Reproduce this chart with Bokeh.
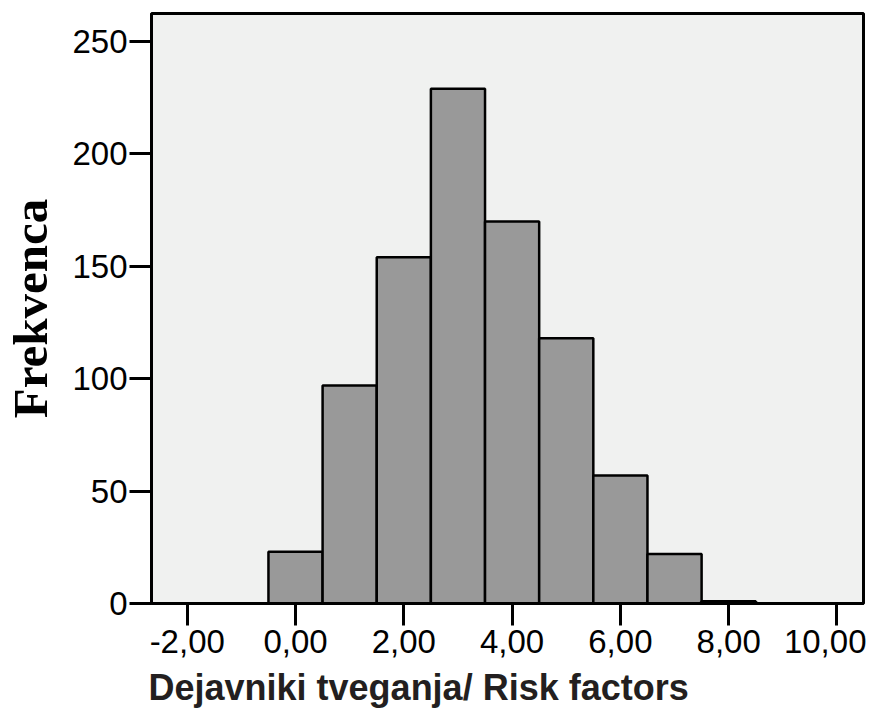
from bokeh.plotting import figure
from bokeh.models import Range1d, FixedTicker, Title
from bokeh.embed import file_html
from bokeh.resources import INLINE

# Histogram data (bin edges and frequencies)
bin_left = [-0.5, 0.5, 1.5, 2.5, 3.5, 4.5, 5.5, 6.5, 7.5]
bin_right = [0.5, 1.5, 2.5, 3.5, 4.5, 5.5, 6.5, 7.5, 8.5]
counts = [23, 97, 154, 229, 170, 118, 57, 22, 1]

x_ticks = [-2, 0, 2, 4, 6, 8, 10]
x_tick_labels = ["-2,00", "0,00", "2,00", "4,00", "6,00", "8,00", "10,00"]
y_ticks = [0, 50, 100, 150, 200, 250]

x_title = "Dejavniki tveganja/ Risk factors"
y_title = "Frekvenca"

p = figure(width=866, height=726, output_backend="svg", toolbar_location=None,
           x_range=Range1d(-2.66, 10.49), y_range=Range1d(0, 262.5),
           min_border_left=151, min_border_right=3, min_border_top=13,
           min_border_bottom=123)

p.quad(left=bin_left, right=bin_right, bottom=0, top=counts,
       fill_color="#999999", line_color="black", line_width=2.5)

p.background_fill_color = "#f0f1f0"
p.border_fill_color = "white"
p.outline_line_color = "black"
p.outline_line_width = 3
p.grid.visible = False

xa = p.xaxis[0]
xa.ticker = FixedTicker(ticks=x_ticks)
xa.major_label_overrides = {t: l for t, l in zip(x_ticks, x_tick_labels)}

p.add_layout(Title(text=x_title, align="left", offset=-3, standoff=19,
                   text_font="Liberation Sans", text_font_style="bold",
                   text_font_size="36px", text_color="#231f20"), "below")

ya = p.yaxis[0]
ya.ticker = FixedTicker(ticks=y_ticks)
ya.axis_label = y_title
ya.axis_label_text_font = "Liberation Serif"
ya.axis_label_text_font_style = "bold"
ya.axis_label_text_font_size = "49px"
ya.axis_label_text_color = "black"
ya.axis_label_standoff = 11

for ax in (xa, ya):
    ax.major_label_text_font = "Liberation Sans"
    ax.major_label_text_font_size = "33px"
    ax.major_label_text_color = "black"
    ax.axis_line_color = "black"
    ax.axis_line_width = 3
    ax.major_tick_line_color = "black"
    ax.major_tick_line_width = 3
    ax.major_tick_out = 22
    ax.major_tick_in = 0
    ax.minor_tick_line_color = None

xa.major_label_standoff = 4
ya.major_label_standoff = 2

open("out.html", "w").write(file_html(p, INLINE))
